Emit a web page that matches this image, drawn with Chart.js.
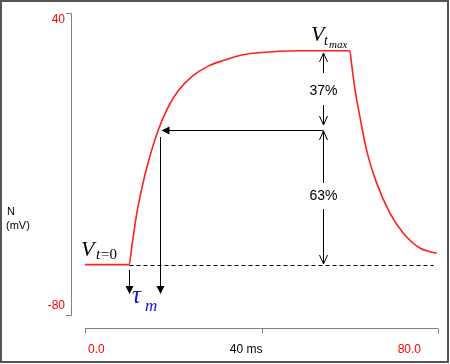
<!DOCTYPE html>
<html>
<head>
<meta charset="utf-8">
<script src="https://cdn.jsdelivr.net/npm/chart.js@4/dist/chart.umd.min.js"></script>
<style>
  html, body { margin: 0; padding: 0; background: #fff; }
  #wrap { width: 450px; height: 364px; }
</style>
</head>
<body>
<div id="wrap"><canvas id="myChart" width="450" height="364"></canvas></div>
<script>
/*               data                */

const times = [0, 10, 10.6, 11.7, 12.9, 14.3, 16.6, 18.9, 21.1, 24.2, 27.9, 31.7, 35.5, 39.3, 48.7,
    60, 60.4, 61.2, 62.3, 63.8, 66.1, 69.1, 72.1, 75.9, 79.7];
const volts = [-60, -60, -52.9, -40, -29.5, -19.5, -6.5, 2.8, 9.0, 14.7, 18.9, 21.3, 23.3, 24.2, 25,
    25, 20.0, 9.4, -1.2, -14.4, -27.6, -39.5, -47.4, -53.4, -55.5];

const yTicks = [-80, 40];
const xTicks = [0, 40, 80];
const xTickLabels = ['0.0', '40 ms', '80.0'];

// annotation values
const vRest = -60;
const vMax = 25;
const tStart = 10;
const tTau = 17;
const tMeasure = 54;
const tDashEnd = 79;

/*               helpers                */

function line(ctx, x1, y1, x2, y2) {
    ctx.beginPath();
    ctx.moveTo(x1, y1);
    ctx.lineTo(x2, y2);
    ctx.stroke();
}

function chevron(ctx, x, y, dir) {
    // open arrow head, dir = -1 up, 1 down
    ctx.beginPath();
    ctx.moveTo(x - 4, y - dir * 9);
    ctx.lineTo(x, y);
    ctx.lineTo(x + 4, y - dir * 9);
    ctx.stroke();
}

function filledHead(ctx, x, y, dx, dy) {
    // tip at x,y pointing along dx,dy
    ctx.beginPath();
    ctx.moveTo(x, y);
    if (dx !== 0) {
        ctx.lineTo(x - dx * 8, y - 4);
        ctx.lineTo(x - dx * 8, y + 4);
    } else {
        ctx.lineTo(x - 4, y - dy * 8);
        ctx.lineTo(x + 4, y - dy * 8);
    }
    ctx.closePath();
    ctx.fill();
}

/*               axes + labels plugin                */

const decorations = {
    id: 'decorations',
    beforeDraw(chart) {
        const ctx = chart.ctx;
        ctx.save();
        ctx.fillStyle = '#fff';
        ctx.fillRect(0, 0, chart.width, chart.height);
        ctx.restore();
    },
    afterDraw(chart) {
        const ctx = chart.ctx;
        const xs = chart.scales.x;
        const ys = chart.scales.y;
        ctx.save();

        // frame
        ctx.strokeStyle = '#555';
        ctx.lineWidth = 2;
        ctx.strokeRect(1, 1, 447, 361);

        // y axis bracket
        ctx.strokeStyle = '#808080';
        ctx.lineWidth = 1;
        const yTop = ys.getPixelForValue(yTicks[1]);
        const yBot = ys.getPixelForValue(yTicks[0]);
        ctx.beginPath();
        ctx.moveTo(66, yTop + 0.5);
        ctx.lineTo(71.5, yTop + 0.5);
        ctx.lineTo(71.5, yBot + 0.5);
        ctx.lineTo(66, yBot + 0.5);
        ctx.stroke();

        ctx.font = '12px "Liberation Sans", Arial, sans-serif';
        ctx.fillStyle = '#ff0000';
        ctx.textAlign = 'right';
        ctx.textBaseline = 'top';
        ctx.fillText(String(yTicks[1]), 65, yTop + 1);
        ctx.textBaseline = 'bottom';
        ctx.fillText(String(yTicks[0]), 65, yBot - 3);

        // y title
        ctx.fillStyle = '#000';
        ctx.textAlign = 'left';
        ctx.textBaseline = 'alphabetic';
        ctx.font = '11px "Liberation Sans", Arial, sans-serif';
        ctx.fillText('N', 7, 215);
        ctx.fillText('(mV)', 6, 229);

        // x axis
        ctx.strokeStyle = '#808080';
        const xAxisY = 328.5;
        ctx.beginPath();
        ctx.moveTo(xs.getPixelForValue(xTicks[0]), xAxisY);
        ctx.lineTo(xs.getPixelForValue(xTicks[2]), xAxisY);
        ctx.stroke();
        xTicks.forEach(function (t) {
            const px = Math.round(xs.getPixelForValue(t)) + 0.5;
            line(ctx, px, xAxisY, px, xAxisY + 5);
        });
        ctx.font = '12px "Liberation Sans", Arial, sans-serif';
        ctx.textBaseline = 'alphabetic';
        ctx.fillStyle = '#ff0000';
        ctx.textAlign = 'left';
        ctx.fillText(xTickLabels[0], xs.getPixelForValue(xTicks[0]) + 3, 353);
        ctx.fillStyle = '#000';
        ctx.textAlign = 'right';
        ctx.fillText(xTickLabels[1], xs.getPixelForValue(xTicks[1]) + 1, 353);
        ctx.fillStyle = '#ff0000';
        ctx.fillText(xTickLabels[2], xs.getPixelForValue(xTicks[2]) - 17, 353);

        // annotations
        const yRest = Math.round(ys.getPixelForValue(vRest));
        const yMaxPx = Math.round(ys.getPixelForValue(vMax));
        const y63 = Math.round(ys.getPixelForValue(vRest + 0.63 * (vMax - vRest)));
        const xStartPx = Math.round(xs.getPixelForValue(tStart)) + 0.5;
        const xTauPx = Math.round(xs.getPixelForValue(tTau)) + 0.5;
        const xMeasPx = Math.round(xs.getPixelForValue(tMeasure)) + 0.5;

        ctx.strokeStyle = '#000';
        ctx.fillStyle = '#000';
        ctx.lineWidth = 1;

        // dashed rest line
        ctx.setLineDash([4, 3]);
        line(ctx, xStartPx, yRest + 0.5, xs.getPixelForValue(tDashEnd), yRest + 0.5);
        ctx.setLineDash([]);

        // 37% segment
        line(ctx, xMeasPx, yMaxPx + 2, xMeasPx, yMaxPx + 22);
        chevron(ctx, xMeasPx, yMaxPx + 2, -1);
        line(ctx, xMeasPx, y63 - 25, xMeasPx, y63 - 5);
        chevron(ctx, xMeasPx, y63 - 5, 1);

        // 63% segment
        line(ctx, xMeasPx, y63 + 1, xMeasPx, y63 + 53);
        chevron(ctx, xMeasPx, y63 + 1, -1);
        line(ctx, xMeasPx, yRest - 56, xMeasPx, yRest - 1);
        chevron(ctx, xMeasPx, yRest - 1, 1);

        ctx.font = '14px "Liberation Sans", Arial, sans-serif';
        ctx.textAlign = 'center';
        ctx.textBaseline = 'middle';
        ctx.fillText('37%', xMeasPx, (yMaxPx + y63) / 2 + 0.5);
        ctx.fillText('63%', xMeasPx, (y63 + yRest) / 2 - 1);

        // horizontal arrow to tau point
        line(ctx, xMeasPx, y63 + 0.5, xTauPx + 6, y63 + 0.5);
        filledHead(ctx, xTauPx + 1, y63 + 0.5, -1, 0);

        // down arrows
        const arrowTip = 294;
        line(ctx, xTauPx, y63 + 7, xTauPx, arrowTip - 6);
        filledHead(ctx, xTauPx, arrowTip, 0, 1);
        line(ctx, xStartPx, yRest + 5, xStartPx, arrowTip - 6);
        filledHead(ctx, xStartPx, arrowTip, 0, 1);

        // math labels
        ctx.textAlign = 'left';
        ctx.textBaseline = 'alphabetic';
        ctx.fillStyle = '#000';
        ctx.font = 'italic 22px "Liberation Serif", serif';
        ctx.fillText('V', 81, yRest - 9);
        ctx.font = 'italic 15px "Liberation Serif", serif';
        ctx.fillText('t', 96, yRest - 6);
        ctx.font = '15px "Liberation Serif", serif';
        ctx.fillText('=0', 101, yRest - 6);

        ctx.font = 'italic 22px "Liberation Serif", serif';
        ctx.fillText('V', 311, yMaxPx - 10);
        ctx.font = 'italic 14px "Liberation Serif", serif';
        ctx.fillText('t', 324, yMaxPx - 6);
        ctx.font = 'italic 11px "Liberation Serif", serif';
        ctx.fillText('max', 329, yMaxPx - 3);

        ctx.fillStyle = '#1414e6';
        ctx.font = 'italic 25px "Liberation Serif", serif';
        ctx.fillText('\u03c4', 132, 303);
        ctx.font = 'italic 17px "Liberation Serif", serif';
        ctx.fillText('m', 145, 311);

        ctx.restore();
    }
};

/*               chart                */

let ctx = document.getElementById('myChart').getContext('2d');
let chart = new Chart(ctx, {
    type: 'line',
    data: {
        datasets: [{
            label: 'membrane potential',
            data: times.map(function (t, i) { return {x: t, y: volts[i]}; }),
            borderColor: '#ff2020',
            borderWidth: 1.6,
            pointRadius: 0,
            fill: false,
            cubicInterpolationMode: 'monotone'
        }]
    },
    options: {
        responsive: false,
        animation: false,
        layout: {padding: {left: 85, right: 12, top: 13, bottom: 49}},
        plugins: {legend: {display: false}, tooltip: {enabled: false}},
        scales: {
            x: {type: 'linear', min: 0, max: 80, display: false},
            y: {type: 'linear', min: -80, max: 40, display: false}
        }
    },
    plugins: [decorations]
});
</script>
</body>
</html>
